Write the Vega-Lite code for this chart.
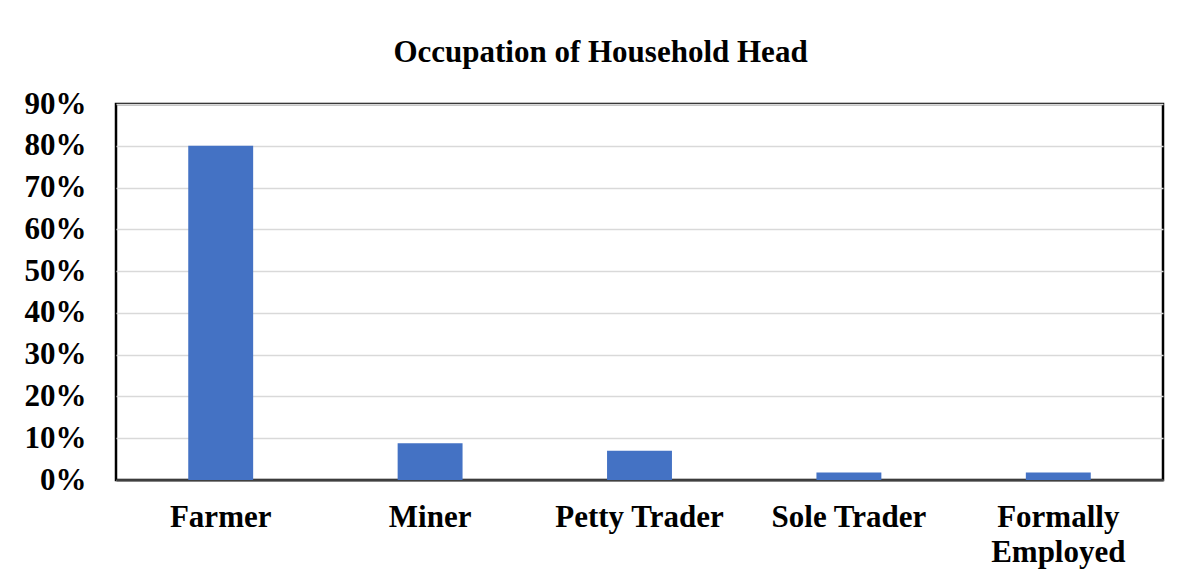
{
  "$schema": "https://vega.github.io/schema/vega-lite/v6.json",
  "autosize": "none",
  "width": 1047,
  "height": 376,
  "padding": {"left": 116, "top": 104, "right": 26, "bottom": 103},
  "background": "white",
  "title": {
    "text": "Occupation of Household Head",
    "font": "Liberation Serif",
    "fontWeight": "bold",
    "fontSize": 31,
    "color": "black",
    "anchor": "middle",
    "frame": "group",
    "dx": -39,
    "dy": 5,
    "baseline": "alphabetic",
    "offset": 0
  },
  "data": {
    "values": [
      {"occupation": "Farmer", "share": 0.80},
      {"occupation": "Miner", "share": 0.088},
      {"occupation": "Petty Trader", "share": 0.07},
      {"occupation": "Sole Trader", "share": 0.018},
      {"occupation": "Formally Employed", "share": 0.018}
    ]
  },
  "mark": {"type": "bar", "color": "#4472C4"},
  "encoding": {
    "x": {
      "field": "occupation",
      "type": "nominal",
      "sort": null,
      "scale": {"paddingInner": 0.69, "paddingOuter": 0.345},
      "axis": {
        "title": null,
        "labelAngle": 0,
        "labelFont": "Liberation Serif",
        "labelFontWeight": "bold",
        "labelFontSize": 31,
        "labelColor": "black",
        "labelPadding": 22,
        "labelLineHeight": 35,
        "labelExpr": "datum.label == 'Formally Employed' ? ['Formally', 'Employed'] : datum.label",
        "ticks": false,
        "domainColor": "#404040",
        "domainWidth": 2,
        "grid": false
      }
    },
    "y": {
      "field": "share",
      "type": "quantitative",
      "scale": {"domain": [0, 0.9]},
      "axis": {
        "title": null,
        "format": ".0%",
        "values": [0, 0.1, 0.2, 0.3, 0.4, 0.5, 0.6, 0.7, 0.8, 0.9],
        "labelFont": "Liberation Serif",
        "labelFontWeight": "bold",
        "labelFontSize": 31,
        "labelColor": "black",
        "labelPadding": 30,
        "ticks": false,
        "domain": false,
        "gridColor": "#d9d9d9",
        "gridWidth": 1.5
      }
    }
  },
  "config": {
    "view": {"stroke": "black", "strokeWidth": 2.5}
  }
}
